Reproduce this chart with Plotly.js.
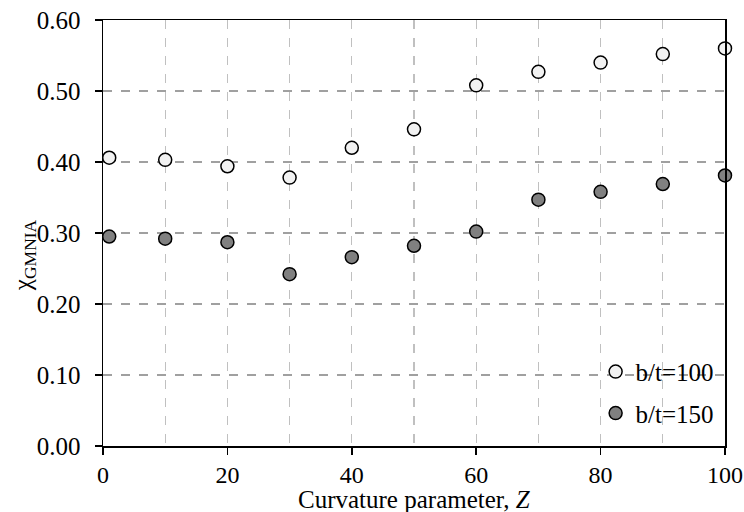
<!DOCTYPE html>
<html>
<head>
<meta charset="utf-8">
<script src="https://cdn.plot.ly/plotly-3.0.1.min.js"></script>
<style>html,body{margin:0;padding:0;background:#fff;}</style>
</head>
<body>
<div id="chart" style="width:744px;height:512px;"></div>
<script>
const curvatureZ = [1, 10, 20, 30, 40, 50, 60, 70, 80, 90, 100];
const chiBt100 = [0.406, 0.403, 0.394, 0.378, 0.420, 0.446, 0.508, 0.527, 0.540, 0.552, 0.560];
const chiBt150 = [0.295, 0.292, 0.287, 0.242, 0.266, 0.282, 0.302, 0.347, 0.358, 0.369, 0.381];
const seriesNames = ['b/t=100', 'b/t=150'];
const xTicks = [0, 20, 40, 60, 80, 100];
const yTicks = [0, 0.1, 0.2, 0.3, 0.4, 0.5, 0.6];
const xTitle = 'Curvature parameter, <i>Z</i>';
const yTitle = 'χ<sub>GMNIA</sub>';

const font = {family: 'Liberation Serif, Times New Roman, serif', size: 25, color: '#000'};
const tickFont = {family: 'Liberation Serif, Times New Roman, serif', size: 24, color: '#000'};

const traces = [
  {x: curvatureZ, y: chiBt100, name: seriesNames[0], type: 'scatter', mode: 'markers', cliponaxis: false,
   legendgroup: 'a',
   marker: {size: 13, color: '#f2f2f2', line: {color: '#000', width: 1.5}}},
  {x: curvatureZ, y: chiBt150, name: seriesNames[1], type: 'scatter', mode: 'markers', cliponaxis: false,
   legendgroup: 'b',
   marker: {size: 13, color: '#808080', line: {color: '#000', width: 1.5}}}
];

const layout = {
  width: 744, height: 512,
  margin: {l: 103, r: 19, t: 20, b: 66},
  paper_bgcolor: '#fff', plot_bgcolor: '#fff',
  font: font,
  showlegend: true,
  legend: {x: 0.792, y: 0.228, xanchor: 'left', yanchor: 'top', bgcolor: 'rgba(0,0,0,0)',
           font: font, traceorder: 'grouped', tracegroupgap: 6, itemwidth: 30},
  xaxis: {
    range: [0, 100], tickvals: xTicks, ticktext: xTicks.map(String),
    ticks: 'outside', ticklen: 7, tickwidth: 1.5, tickcolor: '#000',
    showline: true, linecolor: '#000', linewidth: 1.5, mirror: true,
    showgrid: true, gridcolor: '#c0c0c0', griddash: 'dash', gridwidth: 1.2,
    minor: {dtick: 10, tick0: 0, showgrid: true, gridcolor: '#c0c0c0', griddash: 'dash', gridwidth: 1.2, ticks: ''},
    zeroline: false, tickfont: tickFont
  },
  yaxis: {
    range: [0, 0.6], tickvals: yTicks, tickformat: '.2f',
    ticks: 'outside', ticklen: 7, tickwidth: 1.5, tickcolor: '#000',
    showline: true, linecolor: '#000', linewidth: 1.5, mirror: true,
    showgrid: true, gridcolor: '#a0a0a0', griddash: 'dash', gridwidth: 1.2,
    zeroline: false, tickfont: font, ticklabelstandoff: 9
  },
  annotations: [
    {text: yTitle, xref: 'paper', yref: 'paper', x: -0.127, y: 0.448,
     xanchor: 'center', yanchor: 'middle', textangle: -90, showarrow: false, font: font},
    {text: xTitle, xref: 'paper', yref: 'paper', x: 0.5, y: -0.125,
     xanchor: 'center', yanchor: 'middle', showarrow: false, font: font}
  ]
};

Plotly.newPlot('chart', traces, layout, {displayModeBar: false, staticPlot: true});
</script>
</body>
</html>
